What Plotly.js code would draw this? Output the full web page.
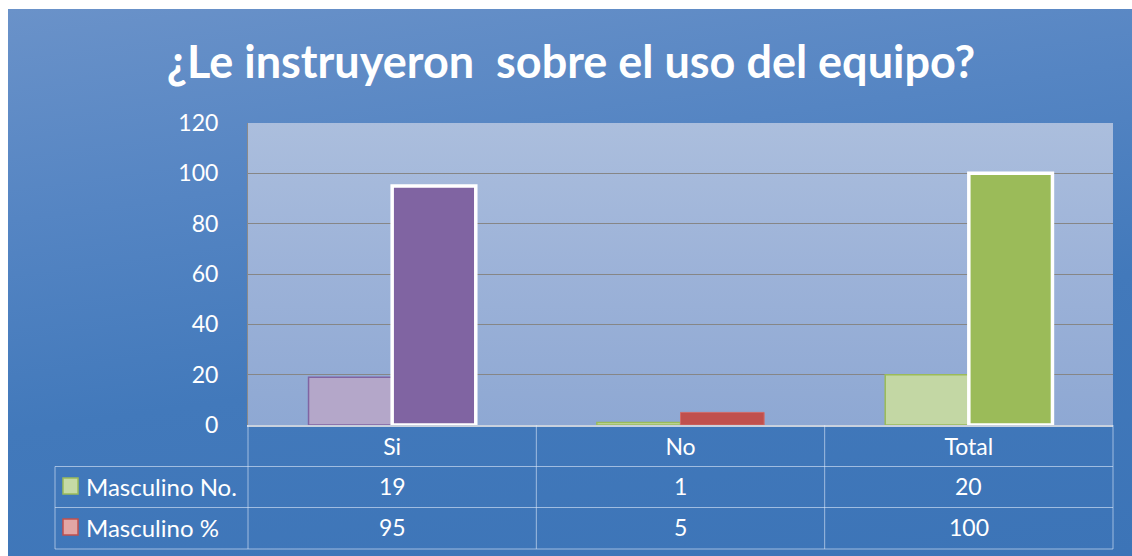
<!DOCTYPE html>
<html>
<head>
<meta charset="utf-8">
<script src="https://cdn.plot.ly/plotly-3.0.1.min.js"></script>
<style>
  html, body { margin:0; padding:0; background:#ffffff; width:1132px; height:556px; overflow:hidden; }
  #bg { position:absolute; left:8px; top:9px; width:1124px; height:547px;
        background: linear-gradient(172deg, #6a92c9 0%, #5585c3 30%, #4279bb 60%, #3c74b7 100%); }
  #plotbg { position:absolute; left:248px; top:123px; width:865px; height:302px;
        background: linear-gradient(180deg, #abbedd 0%, #9cb2d8 50%, #8ea8d3 100%); }
  #chart { position:absolute; left:0; top:0; width:1132px; height:556px; }
</style>
</head>
<body>
<div id="bg"></div>
<div id="plotbg"></div>
<div id="chart"></div>
<script>
const titleText = "¿Le instruyeron \u00a0sobre el uso del equipo?";
const categories = ["Si", "No", "Total"];
const seriesNames = ["Masculino No.", "Masculino %"];
const masculinoNo = [19, 1, 20];
const masculinoPct = [95, 5, 100];
const yTicks = [0, 20, 40, 60, 80, 100, 120];

const FONT = "Lato, 'Open Sans', sans-serif";
const WHITE = "#ffffff";
const tableLine = "rgba(225,235,250,0.6)";

const traces = [
  {
    type: "bar", name: seriesNames[0], x: categories, y: masculinoNo,
    marker: { color: ["#b4a7c9", "#c3d7a4", "#c3d7a4"],
              line: { color: ["#8064a2", "#9bbb59", "#9bbb59"], width: 1.5 } },
    hoverinfo: "skip"
  },
  {
    type: "bar", name: seriesNames[1], x: categories, y: masculinoPct,
    marker: { color: ["#8064a2", "#c0504d", "#9bbb59"],
              line: { color: ["#ffffff", "#d06a67", "#ffffff"], width: [3.5, 1, 3.5] } },
    hoverinfo: "skip"
  }
];

// pixel helpers for table layout (plot area: x 248..1113, y 123..425)
const L = 248, R = 1113, T = 123, B = 425;
const px = v => (v - L) / (R - L);
const py = v => (B - v) / (B - T);

const rowCenters = [486, 527];
const hLines = [466.5, 507.5, 549];
const shapes = [];
hLines.forEach(yy => shapes.push({ type: "line", xref: "paper", yref: "paper",
  x0: px(55), x1: px(R), y0: py(yy), y1: py(yy), line: { color: tableLine, width: 1 } }));
shapes.push({ type: "line", xref: "paper", yref: "paper", x0: px(55), x1: px(55),
  y0: py(466.5), y1: py(549), line: { color: tableLine, width: 1 } });
[0, 1/3, 2/3, 1].forEach(xx => shapes.push({ type: "line", xref: "paper", yref: "paper",
  x0: xx, x1: xx, y0: py(425), y1: py(549), line: { color: tableLine, width: 1 } }));
// legend keys
const keyFill = ["#c5daa6", "#e2a6a5"];
const keyLine = ["#9bbb59", "#c0504d"];
rowCenters.forEach((c, i) => shapes.push({ type: "rect", xref: "paper", yref: "paper",
  x0: px(63), x1: px(78), y0: py(c - 8), y1: py(c + 8),
  fillcolor: keyFill[i], line: { color: keyLine[i], width: 1.5 } }));

const annotations = [];
const rows = [masculinoNo, masculinoPct];
rows.forEach((vals, r) => {
  annotations.push({ xref: "paper", yref: "paper", x: px(84), y: py(rowCenters[r]),
    xanchor: "left", yanchor: "middle", text: seriesNames[r], showarrow: false,
    font: { family: FONT, size: 24, color: WHITE } });
  vals.forEach((v, c) => annotations.push({ xref: "x", yref: "paper", x: categories[c],
    y: py(rowCenters[r]), xanchor: "center", yanchor: "middle", text: String(v),
    showarrow: false, font: { family: FONT, size: 23, color: WHITE } }));
});

const layout = {
  width: 1132, height: 556,
  margin: { l: L, r: 1132 - R, t: T, b: 556 - B, pad: 0 },
  paper_bgcolor: "rgba(0,0,0,0)", plot_bgcolor: "rgba(0,0,0,0)",
  title: { text: "<b>" + titleText + "</b>", x: 571 / 1132, xref: "container", xanchor: "center",
           y: 1 - 62 / 556, yref: "container", yanchor: "middle",
           font: { family: FONT, size: 45, color: WHITE } },
  barmode: "group", bargap: 0.42, bargroupgap: 0,
  showlegend: false,
  xaxis: { type: "category", showline: true, linecolor: "#c8d1de", linewidth: 1.5,
           ticks: "", showgrid: false, zeroline: false,
           tickfont: { family: FONT, size: 23, color: WHITE }, ticklabelstandoff: 1 },
  yaxis: { range: [0, 120], tickvals: yTicks, ticks: "", showline: true, linecolor: "#8a8a8a",
           linewidth: 1, gridcolor: "#868686", gridwidth: 1, zeroline: false,
           tickfont: { family: FONT, size: 23, color: WHITE }, ticklabelstandoff: 24 },
  shapes: shapes,
  annotations: annotations
};

Plotly.newPlot("chart", traces, layout, { staticPlot: true, displayModeBar: false });
</script>
</body>
</html>
